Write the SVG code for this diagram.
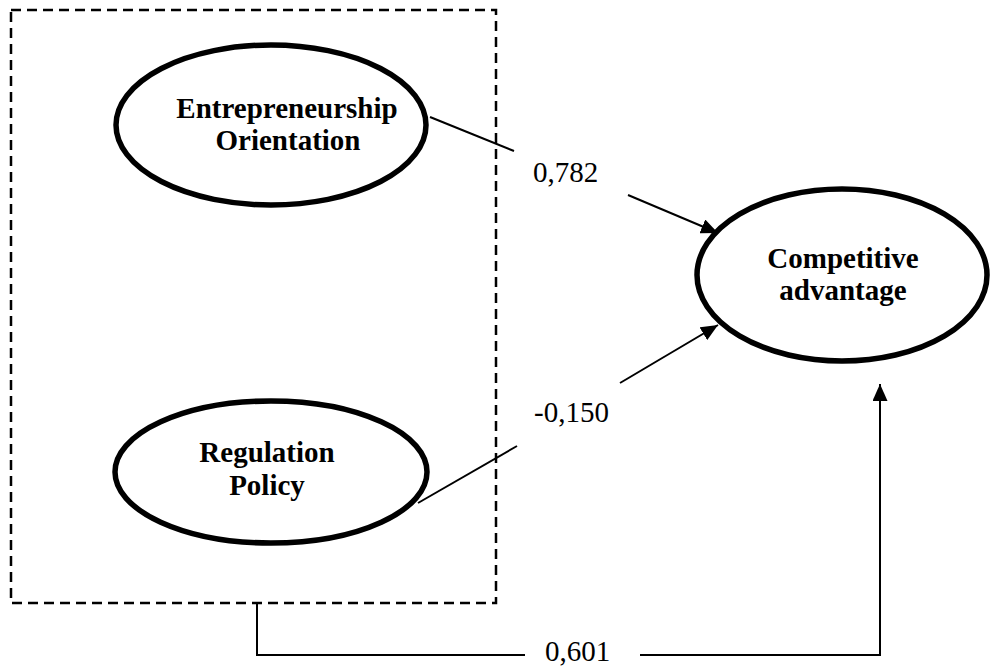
<svg xmlns="http://www.w3.org/2000/svg" width="993" height="667" viewBox="0 0 993 667">
<defs>
<style>
.node ellipse{fill:#fff;stroke:#000;stroke-width:5.5}
.lbl{font-family:"Liberation Serif","Times New Roman",serif;font-weight:bold;font-size:29px;text-anchor:middle;fill:#000}
.num{font-family:"Liberation Serif","Times New Roman",serif;font-size:29px;fill:#000}
.conn{fill:none;stroke:#000;stroke-width:2}
.box{fill:none;stroke:#000;stroke-width:2.5;stroke-dasharray:10 6}
</style>
<marker id="arr" markerUnits="userSpaceOnUse" markerWidth="17" markerHeight="15" refX="17" refY="7.5" orient="auto">
<path d="M0,0 L17,7.5 L0,15 z" fill="#000"/>
</marker>
</defs>
<rect class="box" x="11" y="10" width="485" height="593"/>
<g id="connectors">
<line class="conn" x1="430" y1="117" x2="514" y2="151"/>
<line class="conn" x1="628" y1="195" x2="718" y2="233" marker-end="url(#arr)"/>
<line class="conn" x1="418" y1="503" x2="517" y2="446"/>
<line class="conn" x1="620" y1="383" x2="718" y2="325" marker-end="url(#arr)"/>
<polyline class="conn" points="257,603 257,655 525,655"/>
<polyline class="conn" points="640,655 880,655 880,384" marker-end="url(#arr)"/>
<text class="num" x="533" y="182">0,782</text>
<text class="num" x="534" y="422">-0,150</text>
<text class="num" x="545" y="661">0,601</text>
</g>
<g id="eo" class="node">
<ellipse cx="271" cy="125" rx="155" ry="80"/>
<text class="lbl" x="287" y="118">Entrepreneurship</text>
<text class="lbl" x="288" y="150">Orientation</text>
</g>
<g id="rp" class="node">
<ellipse cx="271" cy="472" rx="156" ry="71"/>
<text class="lbl" x="267" y="462">Regulation</text>
<text class="lbl" x="267" y="495">Policy</text>
</g>
<g id="ca" class="node">
<ellipse cx="842" cy="275" rx="145" ry="86"/>
<text class="lbl" x="843" y="268">Competitive</text>
<text class="lbl" x="843" y="300">advantage</text>
</g>
</svg>
